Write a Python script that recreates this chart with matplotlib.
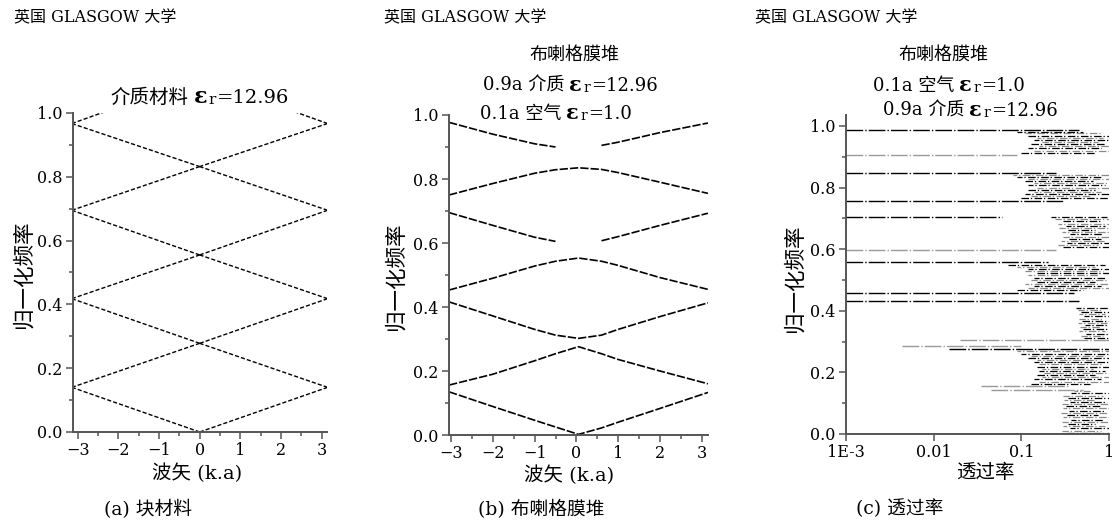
import matplotlib
matplotlib.use('Agg')
import matplotlib.pyplot as plt
import numpy as np
from matplotlib.ticker import MultipleLocator, FixedLocator, NullLocator

plt.rcParams['font.family'] = ['DejaVu Serif', 'Noto Sans CJK SC']

W, H = 1114, 527

# (a) 块材料: 折叠光线的顶点 (k=0 与 k=±pi 处的频率)
center_f = [0.0, 0.278, 0.555, 0.832, 1.11]
edge_f = [0.140, 0.418, 0.695, 0.967]

# (b) 布喇格膜堆能带
k_b = [-3.05, -2, -1, -0.5, 0.05, 0.6, 1, 2, 3.15]
band1 = [0.135, 0.089, 0.046, 0.025, 0.002, 0.022, 0.040, 0.083, 0.133]
band2 = [0.156, 0.190, 0.232, 0.254, 0.276, 0.254, 0.236, 0.200, 0.160]
band3 = [0.416, 0.372, 0.330, 0.312, 0.302, 0.312, 0.330, 0.370, 0.413]
band4 = [0.453, 0.490, 0.528, 0.543, 0.553, 0.543, 0.530, 0.492, 0.455]
band5 = [0.695, 0.655, 0.618, 0.605, np.nan, 0.607, 0.620, 0.655, 0.693]
band6 = [0.750, 0.786, 0.818, 0.829, 0.835, 0.830, 0.820, 0.790, 0.755]
band7 = [0.977, 0.940, 0.910, 0.900, np.nan, 0.905, 0.915, 0.945, 0.975]

# (c) 透过率: 带边处的长横线 (频率, 起点, 终点, 灰色)
edge_line_f = [0.987, 0.906, 0.846, 0.758, 0.706, 0.598, 0.560, 0.459, 0.432,
               0.304, 0.286, 0.276, 0.157, 0.144]
edge_line_t0 = [1e-3, 1e-3, 1e-3, 1e-3, 1e-3, 1e-3, 1e-3, 1e-3, 1e-3,
                0.02, 0.0043, 0.015, 0.035, 0.045]
edge_line_t1 = [0.45, 0.09, 0.25, 0.30, 0.06, 0.25, 0.20, 0.40, 0.45,
                1.0, 0.10, 1.0, 0.35, 0.50]
edge_line_gray = [0, 1, 0, 0, 0, 1, 0, 0, 0, 1, 1, 0, 1, 1]

# 通带内的短横线 (频率, 左端透过率, 右端透过率)
pass1_f = [0.004, 0.011, 0.018, 0.025, 0.032, 0.040, 0.047, 0.054, 0.061, 0.068,
           0.075, 0.083, 0.090, 0.097, 0.104, 0.111, 0.118, 0.125, 0.132, 0.139]
pass1_t = [0.33, 0.29, 0.36, 0.30, 0.34, 0.29, 0.37, 0.30, 0.33, 0.28,
           0.35, 0.30, 0.32, 0.29, 0.36, 0.31, 0.34, 0.30, 0.37, 0.40]
pass1_e = [1.0, 0.8, 1.0, 0.9, 0.7, 1.0, 0.85, 1.0, 0.75, 1.0,
           0.9, 1.0, 0.8, 1.0, 0.95, 0.7, 1.0, 0.85, 1.0, 0.6]
pass2_f = [0.163, 0.170, 0.177, 0.184, 0.191, 0.198, 0.205, 0.212, 0.219, 0.226,
           0.233, 0.240, 0.247, 0.254, 0.261, 0.268]
pass2_t = [0.13, 0.16, 0.14, 0.17, 0.15, 0.18, 0.16, 0.17, 0.15, 0.16,
           0.14, 0.15, 0.12, 0.13, 0.10, 0.09]
pass2_e = [0.6, 1.0, 0.8, 1.0, 0.7, 1.0, 0.9, 0.65, 1.0, 0.8,
           1.0, 0.75, 1.0, 0.9, 1.0, 1.0]
pass3_f = [0.312, 0.319, 0.326, 0.333, 0.340, 0.347, 0.354, 0.361, 0.368, 0.375,
           0.382, 0.389, 0.396, 0.403, 0.410]
pass3_t = [0.52, 0.48, 0.55, 0.45, 0.50, 0.47, 0.53, 0.44, 0.49, 0.46,
           0.52, 0.45, 0.48, 0.44, 0.42]
pass3_e = [1.0, 0.85, 1.0, 0.9, 1.0, 0.8, 1.0, 0.95, 1.0, 0.85,
           1.0, 0.9, 1.0, 0.8, 1.0]
pass4_f = [0.466, 0.473, 0.480, 0.487, 0.494, 0.501, 0.508, 0.515, 0.522, 0.529,
           0.536, 0.543, 0.550]
pass4_t = [0.09, 0.12, 0.14, 0.11, 0.15, 0.13, 0.14, 0.12, 0.15, 0.11,
           0.12, 0.09, 0.07]
pass4_e = [0.5, 1.0, 0.8, 1.0, 0.7, 1.0, 0.9, 0.75, 1.0, 0.85,
           1.0, 0.7, 0.9]
pass5_f = [0.606, 0.613, 0.620, 0.627, 0.634, 0.641, 0.648, 0.655, 0.662, 0.669,
           0.676, 0.683, 0.690, 0.697, 0.703]
pass5_t = [0.30, 0.26, 0.33, 0.28, 0.35, 0.30, 0.36, 0.29, 0.34, 0.27,
           0.32, 0.26, 0.30, 0.24, 0.22]
pass5_e = [1.0, 0.75, 1.0, 0.9, 0.8, 1.0, 0.85, 1.0, 0.7, 1.0,
           0.9, 1.0, 0.8, 1.0, 0.95]
pass6_f = [0.765, 0.772, 0.779, 0.786, 0.793, 0.800, 0.807, 0.814, 0.821, 0.828,
           0.835, 0.842]
pass6_t = [0.10, 0.13, 0.11, 0.14, 0.12, 0.15, 0.12, 0.14, 0.11, 0.12,
           0.09, 0.08]
pass6_e = [1.0, 0.6, 1.0, 0.8, 0.7, 1.0, 0.9, 1.0, 0.65, 1.0, 0.8, 1.0]
pass7_f = [0.913, 0.920, 0.927, 0.934, 0.941, 0.948, 0.955, 0.962, 0.969, 0.976, 0.982]
pass7_t = [0.10, 0.14, 0.12, 0.16, 0.13, 0.17, 0.14, 0.15, 0.12, 0.11, 0.09]
pass7_e = [0.7, 1.0, 0.8, 1.0, 0.9, 0.75, 1.0, 0.85, 1.0, 0.8, 0.5]


def px(x, y):
    return x / W, 1 - y / H


def style_axis(ax):
    for s in ['top', 'right']:
        ax.spines[s].set_visible(False)
    for s in ['left', 'bottom']:
        ax.spines[s].set_color('#555555')
        ax.spines[s].set_linewidth(1.4)
    ax.tick_params(which='both', direction='out', color='#555555', labelsize=11.5,
                   width=1.1, pad=2.5)
    ax.tick_params(which='major', length=5)
    ax.tick_params(which='minor', length=3)
    ax.yaxis.set_major_locator(MultipleLocator(0.2))
    ax.yaxis.set_minor_locator(MultipleLocator(0.1))
    ax.yaxis.set_major_formatter(plt.FuncFormatter(lambda v, p: f'{v:.1f}'))


fig = plt.figure(figsize=(W / 100, H / 100), dpi=100)
renderer = fig.canvas.get_renderer()


def rich_text(x, y, parts, align='left'):
    """parts: (文字, 字号, 粗细, 下移像素, 前间距像素); y 为基线位置"""
    items = []
    for s, size, weight, dy, gap in parts:
        t = fig.text(0, 0, s, fontsize=size, fontweight=weight, ha='left', va='baseline')
        items.append((t, dy, gap, t.get_window_extent(renderer).width))
    total = sum(w + g for _, _, g, w in items)
    cur = x - total / 2 if align == 'center' else x
    for t, dy, gap, w in items:
        cur += gap
        t.set_position(px(cur, y + dy))
        cur += w


ax_a = fig.add_axes([72.7 / W, 1 - 432 / H, 254 / W, 319 / H])
ax_b = fig.add_axes([449 / W, 1 - 435 / H, 259 / W, 320 / H])
ax_c = fig.add_axes([846 / W, 1 - 434 / H, 263 / W, 308 * 1.035 / H])

line_kw = dict(color='black', lw=1.0, linestyle=(0, (3, 1.5)))

# (a)
for i, fe in enumerate(edge_f):
    for side in (-np.pi, np.pi):
        ax_a.plot([side, 0], [fe, center_f[i]], **line_kw)
        ax_a.plot([side, 0], [fe, center_f[i + 1]], **line_kw)
ax_a.set_xlim(-3.12, 3.12)
ax_a.set_ylim(0, 1.0)

# (b)
for band in (band1, band2, band3, band4, band5, band6, band7):
    ax_b.plot(k_b, band, color='black', lw=1.2, linestyle=(0, (5, 1.2)))
ax_b.set_xlim(-3.05, 3.15)
ax_b.set_ylim(0, 1.0)

for ax in (ax_a, ax_b):
    style_axis(ax)
    ax.xaxis.set_major_locator(MultipleLocator(1))
    ax.xaxis.set_minor_locator(MultipleLocator(0.5))
    ax.xaxis.set_major_formatter(plt.FuncFormatter(lambda v, p: f'{int(round(v))}'.replace('-', '\u2212')))

# (c)
ax_c.set_xscale('log')
for f, t0, t1, g in zip(edge_line_f, edge_line_t0, edge_line_t1, edge_line_gray):
    ax_c.hlines(f, t0, t1, color='#999999' if g else 'black', lw=1.0,
                linestyle=(0, (12, 1.5, 1, 1.5)))
passbands = [(pass1_f, pass1_t, pass1_e), (pass2_f, pass2_t, pass2_e),
             (pass3_f, pass3_t, pass3_e), (pass4_f, pass4_t, pass4_e),
             (pass5_f, pass5_t, pass5_e), (pass6_f, pass6_t, pass6_e),
             (pass7_f, pass7_t, pass7_e)]
for fs, ts, es in passbands:
    for j, (f, t, e) in enumerate(zip(fs, ts, es)):
        ax_c.hlines(f, t, e, color='black' if j % 2 == 0 else '#8a8a8a',
                    lw=0.9, linestyle=(j % 4, (6, 1.5, 1, 2)))
ax_c.set_xlim(1e-3, 1)
ax_c.set_ylim(0, 1.035)
style_axis(ax_c)
ax_c.xaxis.set_major_locator(FixedLocator([1e-3, 0.01, 0.1, 1]))
ax_c.xaxis.set_minor_locator(NullLocator())
ax_c.set_xticklabels(['1E-3', '0.01', '0.1', '1'])

# 文字
for x0 in (14, 384, 755):
    fig.text(*px(x0, 18), '英国 GLASGOW 大学', ha='left', va='center', fontsize=11.5)


def eps_parts(prefix, value, size=13):
    return [(prefix, size, 'normal', 0, 0), ('ε', size + 2, 'bold', 0, 5),
            ('r', size - 3, 'normal', 1, 1), ('=' + value, size, 'normal', 0, 1)]


rich_text(200, 103, eps_parts('介质材料', '12.96', 14), align='center')
fig.text(*px(574, 55), '布喇格膜堆', ha='center', va='center', fontsize=13)
rich_text(483, 91, eps_parts('0.9a 介质', '12.96'))
rich_text(480, 119, eps_parts('0.1a 空气', '1.0'))
fig.text(*px(943, 55), '布喇格膜堆', ha='center', va='center', fontsize=13)
rich_text(873, 91, eps_parts('0.1a 空气', '1.0'))
rich_text(883, 116, eps_parts('0.9a 介质', '12.96'))

for x0, y0 in ((24, 274), (396, 276), (795, 278)):
    fig.text(*px(x0, y0), '归一化频率', ha='center', va='center', rotation=90, fontsize=15.5)

fig.text(*px(197, 473), '波矢 (k.a)', ha='center', va='center', fontsize=14)
fig.text(*px(569, 475), '波矢 (k.a)', ha='center', va='center', fontsize=14)
fig.text(*px(985, 473), '透过率', ha='center', va='center', fontsize=14)

fig.text(*px(148, 509), '(a) 块材料', ha='center', va='center', fontsize=13.5)
fig.text(*px(541, 509), '(b) 布喇格膜堆', ha='center', va='center', fontsize=13.5)
fig.text(*px(900, 509), '(c) 透过率', ha='center', va='center', fontsize=13.5)

fig.savefig('out.png', dpi=100)
